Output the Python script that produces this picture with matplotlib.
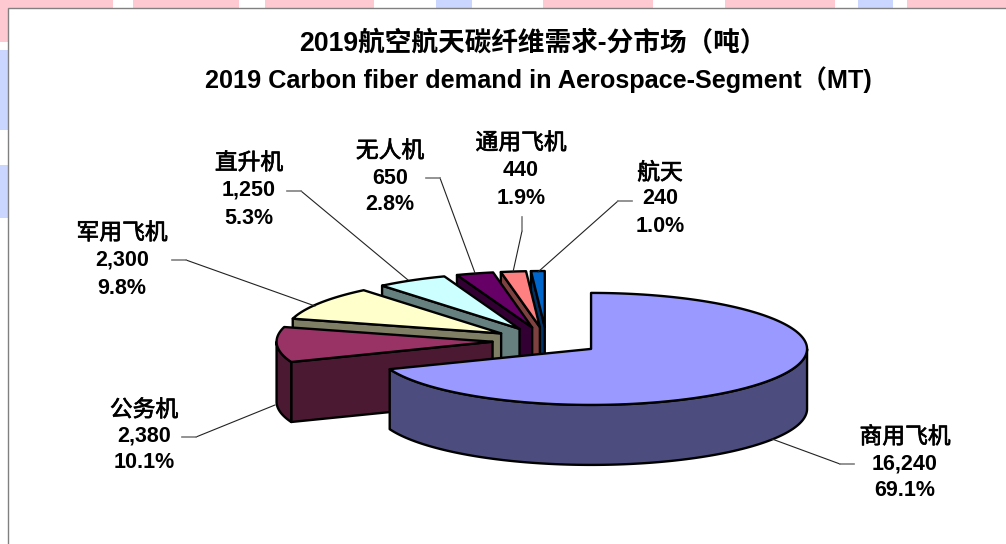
import numpy as np
from matplotlib import pyplot as plt
from matplotlib.patches import Rectangle
from matplotlib import patheffects

# Data
names = ["商用飞机", "公务机", "军用飞机", "直升机", "无人机", "通用飞机", "航天"]
values = [16240, 2380, 2300, 1250, 650, 440, 240]
top_colors = ["#9999FF", "#993366", "#FFFFCC", "#CCFFFF", "#660066", "#FF8080", "#0066CC"]
side_colors = ["#4C4C7F", "#4C1933", "#7F7F66", "#667F7F", "#330033", "#7F4040", "#003366"]
title_cn = "2019航空航天碳纤维需求-分市场（吨）"
title_en = "2019 Carbon fiber demand in Aerospace-Segment（MT)"

# Label centers (x, name y, value y, percent y)
label_pos = [(905, 437, 464, 491), (144, 410, 436, 463), (122, 233, 260, 288),
             (249, 163, 190, 218), (390, 151, 178, 205), (521, 143, 170, 198),
             (660, 173, 199, 227)]
# Leader lines: grey stub then thin line
leaders = [[(854, 464), (840, 464), (772, 439)], [(182, 437), (196, 437), (275, 405)],
           [(172, 260), (186, 260), (315, 306)], [(287, 191), (301, 191), (408, 280)],
           [(426, 178), (440, 178), (475, 273)], [(522, 217), (522, 231), (513, 272)],
           [(632, 201), (618, 201), (538, 272)]]

# Pie geometry, in pixels
cx, cy = 546.5, 341.0
rx, ry = 216.0, 56.0
depth = 60.0
explode = 0.25

# Background stripes seen around the slide frame
pink = "#FFC9D2"
blue = "#CAD6FF"
top_bands = [(0, 113, pink), (133, 239, pink), (265, 374, pink), (436, 472, blue),
             (543, 653, pink), (725, 835, pink), (858, 893, blue), (907, 1006, pink)]
left_bands = [(0, 42, pink), (50, 130, blue), (165, 218, blue)]

plt.rcParams['font.family'] = ['Liberation Sans', 'Noto Sans CJK SC', 'DejaVu Sans']

fig = plt.figure(figsize=(10.06, 5.44), dpi=100)
ax = fig.add_axes([0, 0, 1, 1])
ax.set_xlim(0, 1006)
ax.set_ylim(544, 0)
ax.axis('off')

for x0, x1, c in top_bands:
    ax.add_patch(Rectangle((x0, 0), x1 - x0, 8, fc=c, ec='none'))
for y0, y1, c in left_bands:
    ax.add_patch(Rectangle((0, y0), 9, y1 - y0, fc=c, ec='none'))
ax.add_patch(Rectangle((8.5, 7.5), 1100, 600, fc='white', ec='#808080', lw=1.0))


# Point on the rim, angle clockwise from 12 o'clock
def rim(theta, r=1.0):
    return rx * r * np.sin(theta), -ry * r * np.cos(theta)


def draw_slice(start, end, top, side):
    mid = (start + end) / 2
    dx, dy = rim(mid, explode)
    ax_, ay_ = cx + dx, cy + dy
    th = np.linspace(start, end, 200)
    xs, ys = rim(th)
    xs, ys = xs + ax_, ys + ay_
    # cut face on the start side, seen when it looks down at us
    if np.sin(start) < 0:
        ax.fill([ax_, xs[0], xs[0], ax_], [ay_, ys[0], ys[0] + depth, ay_ + depth],
                fc=side, ec='black', lw=1.7, joinstyle='round')
    # outer wall, only the front half of the ellipse
    a, b = max(start, np.pi / 2), min(end, 3 * np.pi / 2)
    if a < b:
        tw = np.linspace(a, b, 200)
        wx, wy = rim(tw)
        wx, wy = wx + ax_, wy + ay_
        ax.fill(np.r_[wx, wx[::-1]], np.r_[wy, wy[::-1] + depth],
                fc=side, ec='black', lw=1.7, joinstyle='round')
    # top
    ax.fill(np.r_[ax_, xs], np.r_[ay_, ys], fc=top, ec='black', lw=1.7, joinstyle='round')


total = sum(values)
edges = np.r_[0, np.cumsum(values)] / total * 2 * np.pi
# last slice first, the big one goes on top
for i in range(len(values) - 1, -1, -1):
    draw_slice(edges[i], edges[i + 1], top_colors[i], side_colors[i])

for pts in leaders:
    ax.plot([pts[1][0], pts[2][0]], [pts[1][1], pts[2][1]], color='#222222', lw=0.8)
    ax.plot([pts[0][0], pts[1][0]], [pts[0][1], pts[1][1]], color='#808080', lw=1.2)

# Labels
for i, (x, y0, y1, y2) in enumerate(label_pos):
    ax.text(x, y0, names[i], ha='center', va='center', fontsize=16.4, color='black',
            path_effects=[patheffects.withStroke(linewidth=0.5, foreground='black')])
    ax.text(x, y1, f"{values[i]:,}", ha='center', va='center', fontsize=15.5, fontweight='bold')
    ax.text(x, y2, f"{values[i] / total:.1%}", ha='center', va='center', fontsize=15.5, fontweight='bold')

ax.text(533, 43, title_cn, ha='center', va='center', fontsize=19.2, fontweight='bold')
ax.text(538, 80, title_en, ha='center', va='center', fontsize=18.2, fontweight='bold')

fig.savefig('out.png', dpi=100)
